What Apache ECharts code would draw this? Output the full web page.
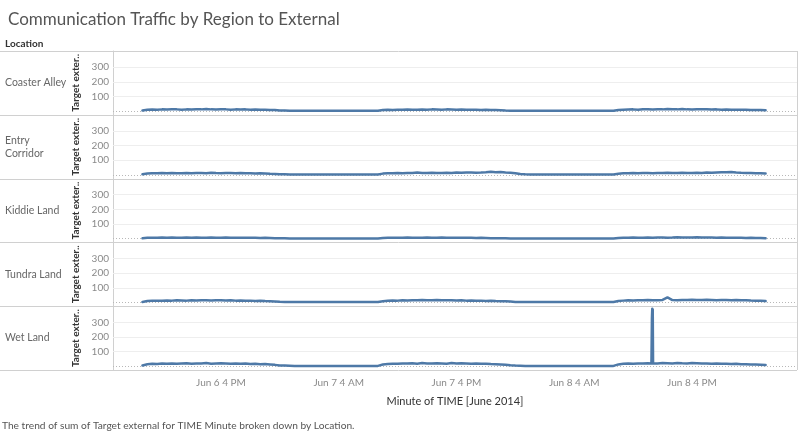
<!DOCTYPE html>
<html><head><meta charset="utf-8">
<script src="https://cdn.jsdelivr.net/npm/echarts@6/dist/echarts.min.js"></script>
<style>html,body{margin:0;padding:0;background:#fff}#c{width:800px;height:435px}</style>
</head><body><div id="c"></div>
<script>
// ---------- data ----------
const regionLabels = ["Coaster Alley", "Entry\nCorridor", "Kiddie Land", "Tundra Land", "Wet Land"];
const days = ["2014-06-06", "2014-06-07", "2014-06-08"];
const slots = ["08:00","08:30","09:00","09:30","10:00","10:30","11:00","11:30","12:00","12:30","13:00","13:30",
  "14:00","14:30","15:00","15:30","16:00","16:30","17:00","17:30","18:00","18:30","19:00","19:30",
  "20:00","20:30","21:00","21:30","22:00","22:30","23:00","23:30"];

const coasterAlley = [
  4,9,11,10,12,11,13,12,10,12,11,13,12,14,12,11,13,12,10,12,11,12,10,11,9,10,8,7,5,4,3,2,
  2,7,9,8,10,9,11,10,9,11,10,12,11,10,12,11,10,11,9,10,9,8,9,8,7,6,4,3,3,2,2,2,
  2,8,10,11,12,10,13,12,11,13,12,14,13,12,14,12,11,13,12,13,11,12,10,11,10,9,10,9,8,8,7,6];
const entryCorridor = [
  5,10,12,11,13,12,14,12,11,13,12,14,13,12,15,13,12,14,13,12,13,11,12,10,11,10,8,7,5,4,3,3,
  3,9,11,12,13,12,14,13,16,14,13,15,14,13,15,14,16,15,17,16,15,16,18,21,19,20,17,15,12,6,4,3,
  3,8,11,12,13,12,14,13,12,14,13,15,14,13,15,14,13,15,14,16,15,17,19,18,20,17,15,14,13,12,11,10];
const kiddieLand = [
  3,6,7,6,8,7,8,7,6,8,7,8,7,6,8,7,6,8,7,6,7,6,7,6,5,6,5,4,3,3,2,2,
  2,5,6,7,6,7,8,7,6,7,8,7,6,8,7,6,7,6,7,6,5,6,5,4,4,3,3,2,2,2,2,2,
  2,5,7,6,8,7,6,8,7,9,8,7,8,10,9,8,9,10,8,9,8,7,8,7,6,7,6,5,6,5,5,4];
const tundraLand = [
  4,10,12,13,12,14,13,15,14,13,15,14,16,15,14,16,15,14,15,13,14,12,13,11,12,10,9,7,5,4,3,3,
  3,9,12,14,13,15,14,16,15,17,16,15,17,16,15,16,14,15,13,14,12,13,11,12,10,9,8,7,4,3,3,3,
  3,10,13,15,14,16,15,17,16,15,18,35,17,16,18,17,19,18,17,19,18,16,17,18,16,17,15,16,14,13,12,10];
const wetLand = [
  6,14,17,16,19,18,20,17,19,21,18,20,19,22,18,20,21,19,17,20,18,19,16,17,15,16,13,10,6,5,4,3,
  3,12,16,18,17,20,19,21,18,22,20,19,21,20,18,22,19,21,20,18,19,17,18,16,15,13,10,7,5,4,3,3,
  3,13,17,19,18,20,19,21,20,19,22,21,20,23,21,20,22,21,19,20,18,19,17,18,16,17,15,14,13,12,11,9];
const wetLandSpikeTimes = ["2014-06-08 11:52","2014-06-08 11:55","2014-06-08 11:57","2014-06-08 12:00","2014-06-08 12:02"];
const wetLandSpikeValues = [20, 330, 392, 388, 21];

const xTickTimes = ["2014-06-06 16:00","2014-06-07 04:00","2014-06-07 16:00","2014-06-08 04:00","2014-06-08 16:00"];
const xTickLabels = ["Jun 6 4 PM","Jun 7 4 AM","Jun 7 4 PM","Jun 8 4 AM","Jun 8 4 PM"];
const xRange = ["2014-06-06 05:00", "2014-06-09 02:42"];
const yTickValues = [100, 200, 300];
const yRange = [-25, 410];

// ---------- build ----------
const ts = s => new Date(s.replace(' ', 'T') + ':00').getTime();
const allTimes = [];
days.forEach(d => slots.forEach(s => allTimes.push(d + ' ' + s)));
const seriesValues = [coasterAlley, entryCorridor, kiddieLand, tundraLand, wetLand];
function pairs(vals, extraT, extraV) {
  const p = vals.map((v, i) => [ts(allTimes[i]), v]);
  if (extraT) extraT.forEach((t, i) => p.push([ts(t), extraV[i]]));
  p.sort((a, b) => a[0] - b[0]);
  return p;
}
const tickTs = xTickTimes.map(ts);

const FONT = 'Lato, "Open Sans", sans-serif';
const TOP = 51, PH = 63.8, LEFT = 113, RIGHTX = 797;
const grids = [], xAxes = [], yAxes = [], series = [], graphics = [];

for (let i = 0; i < 5; i++) {
  const last = i === 4;
  grids.push({ left: LEFT, width: RIGHTX - LEFT, top: TOP + i * PH, height: PH });
  xAxes.push({
    type: 'value', gridIndex: i, min: ts(xRange[0]), max: ts(xRange[1]),
    axisLine: { show: false }, axisTick: { show: false }, splitLine: { show: false },
    axisLabel: last ? {
      show: true, customValues: tickTs, color: '#8a8a8a', fontSize: 10, fontFamily: FONT, margin: 8,
      formatter: v => { let k = -1; tickTs.forEach((t, j) => { if (Math.abs(t - v) < 1000) k = j; }); return k >= 0 ? xTickLabels[k] : ''; }
    } : { show: false },
    name: last ? 'Minute of TIME [June 2014]' : '', nameLocation: 'middle', nameGap: 26,
    nameTextStyle: { color: '#333', fontSize: 11, fontFamily: FONT }
  });
  yAxes.push({
    type: 'value', gridIndex: i, min: yRange[0], max: yRange[1],
    axisLine: { show: true, lineStyle: { color: '#d0d0d0', width: 1 } },
    axisTick: { show: false }, splitLine: { show: false },
    axisLabel: { customValues: yTickValues, color: '#8a8a8a', fontSize: 10, fontFamily: FONT, margin: 4 },
    name: 'Target exter..', nameLocation: 'middle', nameRotate: 90, nameGap: 27,
    nameTextStyle: { color: '#333', fontSize: 10, fontWeight: 'bold', fontFamily: FONT }
  });
  series.push({
    type: 'line', xAxisIndex: i, yAxisIndex: i, data: [], z: 1, silent: true,
    markLine: {
      z: 1, silent: true, symbol: 'none', animation: false, label: { show: false },
      data: [
        { yAxis: 100, lineStyle: { color: '#eeeeee', width: 1, type: 'solid' } },
        { yAxis: 200, lineStyle: { color: '#eeeeee', width: 1, type: 'solid' } },
        { yAxis: 300, lineStyle: { color: '#eeeeee', width: 1, type: 'solid' } },
        { yAxis: 0, lineStyle: { color: '#b8b8b8', width: 1, type: [1, 2] } }
      ]
    }
  });
  series.push({
    type: 'line', xAxisIndex: i, yAxisIndex: i, z: 6, showSymbol: false, animation: false,
    data: last ? pairs(seriesValues[i], wetLandSpikeTimes, wetLandSpikeValues) : pairs(seriesValues[i]),
    lineStyle: { color: '#4e79a7', width: 2.5, join: 'round', cap: 'round' }, itemStyle: { color: '#4e79a7' }
  });
  graphics.push({
    type: 'text', left: 5, top: TOP + i * PH + PH / 2 - (i === 1 ? 13 : 6.5), silent: true,
    style: { text: regionLabels[i], fill: '#666', fontSize: 10.5, fontFamily: FONT, lineHeight: 13 }
  });
}
for (let i = 0; i <= 5; i++) {
  const y = Math.round(TOP + i * PH) + 0.5;
  graphics.push({ type: 'line', silent: true, shape: { x1: 0, y1: y, x2: RIGHTX, y2: y }, style: { stroke: '#d0d0d0', lineWidth: 1 } });
}
graphics.push({ type: 'line', silent: true, shape: { x1: RIGHTX + 0.5, y1: TOP, x2: RIGHTX + 0.5, y2: TOP + 5 * PH }, style: { stroke: '#d0d0d0', lineWidth: 1 } });
graphics.push({ type: 'text', left: 5, top: 39, silent: true, style: { text: 'Location', fill: '#333', fontSize: 10, fontWeight: 'bold', fontFamily: FONT } });
graphics.push({ type: 'text', left: 2, top: 421, silent: true, style: { text: 'The trend of sum of Target external for TIME Minute broken down by Location.', fill: '#555', fontSize: 10.2, fontFamily: FONT } });

const chart = echarts.init(document.getElementById('c'), null, { renderer: 'canvas' });
chart.setOption({
  animation: false,
  title: { text: 'Communication Traffic by Region to External', left: 3, top: 6,
    textStyle: { color: '#555', fontSize: 17, fontWeight: 'normal', fontFamily: FONT } },
  grid: grids, xAxis: xAxes, yAxis: yAxes, series: series, graphic: graphics
});
</script></body></html>
